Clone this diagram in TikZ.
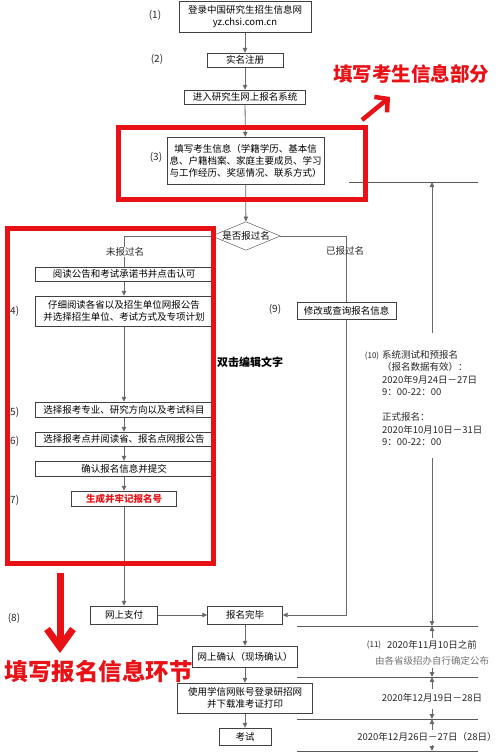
\documentclass[tikz,border=0pt]{standalone}
\usepackage{fontspec}
\newfontfamily\cjk{Noto Sans CJK SC}
\usetikzlibrary{arrows,arrows.meta,shapes.geometric}
\definecolor{mark}{RGB}{232,18,22}
\definecolor{wire}{RGB}{105,105,105}

\begin{document}
\begin{tikzpicture}[x=1pt,y=-1pt]
\tikzstyle{box} = [draw=black!75,fill=white,inner sep=0pt,align=center,font=\cjk\fontsize{9.5}{12}\selectfont]
\tikzstyle{num} = [inner sep=0pt,font=\cjk\fontsize{9.5}{12.5}\selectfont,text=black!85]
\tikzstyle{stepno} = [inner sep=0pt,font=\cjk\fontsize{10}{12}\selectfont,text=black!85]
\tikzstyle{flow} = [draw=wire,line width=0.8pt,-{Triangle[length=5pt,width=4.5pt]}]
\tikzstyle{wire} = [draw=wire,line width=0.8pt]
\tikzstyle{rule} = [draw=black!65,line width=0.9pt]
\tikzstyle{frame} = [draw=mark,line width=5pt]
\tikzstyle{note} = [text=mark,inner sep=0pt,font=\cjk\bfseries\fontsize{19.5}{22}\selectfont]
\tikzstyle{pointer} = [draw=mark,line width=4.5pt,-{Straight Barb[length=9pt,width=20pt]}]

\pgfdeclarelayer{background}
\pgfsetlayers{background,main}

\useasboundingbox (0,0) rectangle (500,753);

% main column
\node[box,minimum width=132pt,minimum height=31pt] (s1) at (245,16.5) {登录中国研究生招生信息网\\yz.chsi.com.cn};
\node[box,minimum width=76pt,minimum height=14pt] (s2) at (245,60) {实名注册};
\node[box,minimum width=121pt,minimum height=14pt] (s3) at (245,97) {进入研究生网上报名系统};
\node[box,minimum width=157pt,minimum height=47pt] (s4) at (245.5,160.5) {填写考生信息（学籍学历、基本信\\息、户籍档案、家庭主要成员、学习\\与工作经历、奖惩情况、联系方式）};
\node[box,diamond,aspect=2.4] (ask) at (246,236) {是否报过名};

% not yet registered
\node[box,minimum width=177pt,minimum height=14pt] (a1) at (124,274) {阅读公告和考试承诺书并点击认可};
\node[box,minimum width=177pt,minimum height=30pt] (a2) at (124,311) {仔细阅读各省以及招生单位网报公告\\并选择招生单位、考试方式及专项计划};
\node[box,minimum width=177pt,minimum height=15pt] (a3) at (124,409.5) {选择报考专业、研究方向以及考试科目};
\node[box,minimum width=177pt,minimum height=14pt] (a4) at (124,439) {选择报考点并阅读省、报名点网报公告};
\node[box,minimum width=177pt,minimum height=15pt] (a5) at (124,468.5) {确认报名信息并提交};
\node[box,minimum width=105pt,minimum height=15pt,text=mark,font=\cjk\bfseries\fontsize{9.5}{12}\selectfont] (a6) at (124,498.5) {生成并牢记报名号};

% already registered
\node[box,minimum width=99pt,minimum height=17pt] (q1) at (346.5,310.5) {修改或查询报名信息};

% after registration
\node[box,minimum width=67pt,minimum height=18pt] (p1) at (124,615) {网上支付};
\node[box,minimum width=75pt,minimum height=18pt] (p2) at (245,615) {报名完毕};
\node[box,minimum width=105pt,minimum height=21pt] (c1) at (245,656.5) {网上确认（现场确认）};
\node[box,minimum width=135pt,minimum height=30pt] (c2) at (245,698) {使用学信网账号登录研招网\\并下载准考证打印};
\node[box,minimum width=52pt,minimum height=17pt] (c3) at (245,736.5) {考试};

% step numbers
\node[stepno] (l1) at (155,15) {(1)};
\node[stepno] (l2) at (157,59) {(2)};
\node[stepno] (l3) at (156,157) {(3)};
\node[stepno] (l4) at (13,311) {(4)};
\node[stepno] (l5) at (13,412) {(5)};
\node[stepno] (l6) at (13,441) {(6)};
\node[stepno] (l7) at (13,500) {(7)};
\node[stepno] (l8) at (14,618) {(8)};
\node[stepno] (l9) at (275,309) {(9)};
\node[stepno,font=\cjk\fontsize{8}{10}\selectfont] (l10) at (372,356) {(10)};
\node[stepno,font=\cjk\fontsize{8}{10}\selectfont] (l11) at (374,645) {(11)};

% branch labels
\node[num,fill=white,inner sep=1pt] (no) at (125,252) {未报过名};
\node[num] (yes) at (345,251) {已报过名};

% dates
\node[num,anchor=north west,align=left] (t10) at (382,350) {系统测试和预报名\\（报名数据有效）：\\2020年9月24日－27日\\9：00-22：00\\[12.5pt]正式报名：\\2020年10月10日－31日\\9：00-22：00};
\node[num] (d1) at (432,645) {2020年11月10日之前};
\node[num,text=black!55] (d2) at (432,661) {由各省级招办自行确定公布};
\node[num] (d3) at (432,698) {2020年12月19日－28日};
\node[num] (d4) at (427,737) {2020年12月26日－27日（28日）};

\node[inner sep=0pt,font=\cjk\bfseries\fontsize{11}{13}\selectfont] (hint) at (250,362) {双击编辑文字};

% timeline
\coordinate (k0) at (432,182);
\coordinate (k1) at (432,333);
\coordinate (k2) at (432,458);
\coordinate (k3) at (432,626);
\coordinate (g0a) at (349,182);
\coordinate (g0b) at (478,182);

\begin{pgfonlayer}{background}
\draw[flow] (s1) -- (s2);
\draw[flow] (s2) -- (s3);
\draw[flow] (s3) -- (s4);
\draw[flow] (s4) -- (ask);
\draw[wire] (ask.west) -| (a1.north);
\draw[flow] (a1) -- (a2);
\draw[flow] (a2) -- (a3);
\draw[flow] (a3) -- (a4);
\draw[flow] (a4) -- (a5);
\draw[flow] (a5) -- (a6);
\draw[flow] (a6) -- (p1);
\draw[flow] (p1) -- (p2);
\draw[wire] (ask.east) -| (q1.north);
\draw[flow] (q1.south) |- (p2.east);
\draw[flow] (p2) -- (c1);
\draw[flow] (c1) -- (c2);
\draw[flow] (c2) -- (c3);

\draw[rule] (g0a) -- (g0b);
\draw[flow] (k1) -- (k0);
\draw[flow] (k2) -- (k3);
\foreach \y [count=\i] in {626,677,719,751}
{
  \coordinate (g\i a) at (297,\y);
  \coordinate (g\i b) at (478,\y);
  \draw[rule] (g\i a) -- (g\i b);
}
\foreach \top/\bot/\a/\b in {626/677/638/668, 677/719/689/709, 719/751/730/745}
{
  \coordinate (u\top) at (432,\a);
  \coordinate (v\top) at (432,\b);
  \draw[flow] (u\top) -- (432,\top);
  \draw[flow] (v\top) -- (432,\bot);
}
\end{pgfonlayer}

% red marks
\draw[frame] (118,127) rectangle (365,199);
\draw[frame] (7,228) rectangle (213,563);
\node[note] (n1) at (411,74) {填写考生信息部分};
\node[note,font=\cjk\bfseries\fontsize{23.5}{26}\selectfont] (n2) at (99,671) {填写报名信息环节};
\coordinate (m1) at (362,120);
\coordinate (m2) at (390,97);
\coordinate (m3) at (60,573);
\coordinate (m4) at (60,653);
\draw[pointer] (m1) -- (m2);
\draw[pointer,line width=7pt,-{Straight Barb[length=18pt,width=26pt]}] (m3) -- (m4);
\end{tikzpicture}
\end{document}
